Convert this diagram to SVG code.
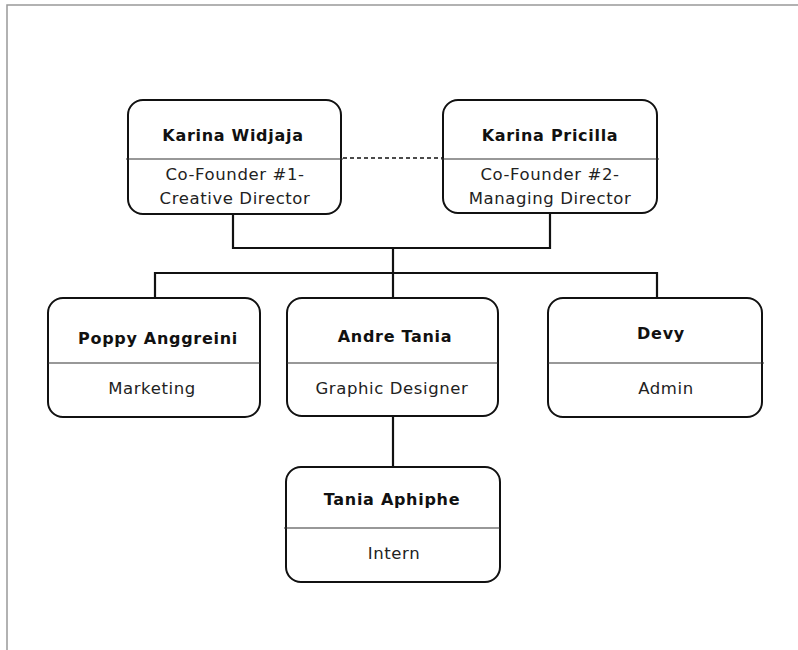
<svg xmlns="http://www.w3.org/2000/svg" width="798" height="650" viewBox="0 0 798 650">
<style>
.box{fill:#fff;stroke:#111;stroke-width:2}
.div{stroke:#333;stroke-width:1.2}
.conn{fill:none;stroke:#111;stroke-width:2.2}
.dash{fill:none;stroke:#111;stroke-width:1.5;stroke-dasharray:4 3}
.name{font-family:"DejaVu Sans",sans-serif;font-weight:bold;font-size:16px;letter-spacing:0.7px;fill:#111;text-anchor:middle}
.role{font-family:"DejaVu Sans",sans-serif;font-size:16.5px;letter-spacing:0.6px;fill:#222;text-anchor:middle}
</style>
<rect width="798" height="650" fill="#fff"/>
<path d="M7 650 V5 H798" fill="none" stroke="#999" stroke-width="1.5"/>
<g id="connectors">
<path class="conn" d="M233 214 V248 H550 V213"/>
<path class="conn" d="M393 248 V298"/>
<path class="conn" d="M155 298 V273 H657 V298"/>
<path class="conn" d="M393 416 V467"/>
<path class="dash" d="M343 158 H442"/>
</g>
<g id="karina-widjaja">
<rect class="box" x="128" y="100" width="213" height="114" rx="15"/>
<line class="div" x1="126" y1="159" x2="343" y2="159"/>
<text class="name" x="233" y="141">Karina Widjaja</text>
<text class="role" x="235" y="180">Co-Founder #1-</text>
<text class="role" x="235" y="204">Creative Director</text>
</g>
<g id="karina-pricilla">
<rect class="box" x="443" y="100" width="214" height="113" rx="15"/>
<line class="div" x1="441" y1="159" x2="659" y2="159"/>
<text class="name" x="550" y="141">Karina Pricilla</text>
<text class="role" x="550" y="180">Co-Founder #2-</text>
<text class="role" x="550" y="204">Managing Director</text>
</g>
<g id="poppy">
<rect class="box" x="48" y="298" width="212" height="119" rx="15"/>
<line class="div" x1="48" y1="363" x2="260" y2="363"/>
<text class="name" x="158" y="344">Poppy Anggreini</text>
<text class="role" x="152" y="394">Marketing</text>
</g>
<g id="andre">
<rect class="box" x="287" y="298" width="211" height="118" rx="15"/>
<line class="div" x1="287" y1="363" x2="498" y2="363"/>
<text class="name" x="395" y="342">Andre Tania</text>
<text class="role" x="392" y="394">Graphic Designer</text>
</g>
<g id="devy">
<rect class="box" x="548" y="298" width="214" height="119" rx="15"/>
<line class="div" x1="548" y1="363" x2="764" y2="363"/>
<text class="name" x="661" y="339">Devy</text>
<text class="role" x="666" y="394">Admin</text>
</g>
<g id="tania">
<rect class="box" x="286" y="467" width="214" height="115" rx="15"/>
<line class="div" x1="284" y1="528" x2="500" y2="528"/>
<text class="name" x="392" y="505">Tania Aphiphe</text>
<text class="role" x="394" y="559">Intern</text>
</g>
</svg>
